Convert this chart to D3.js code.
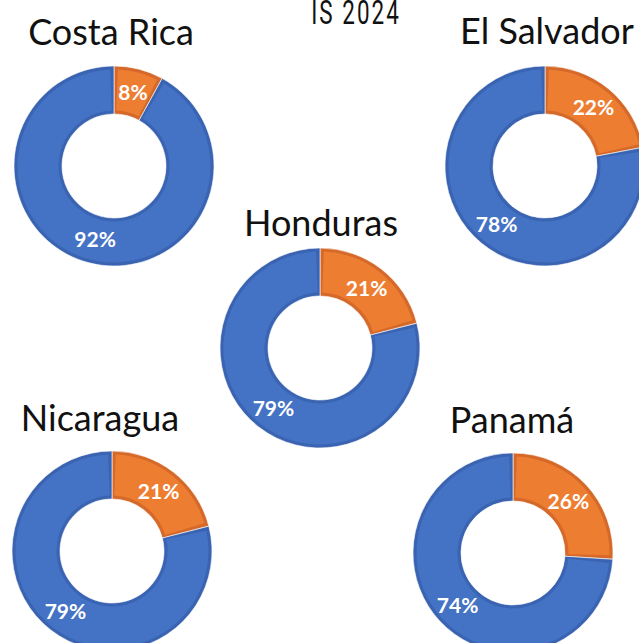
<!DOCTYPE html>
<html lang="es">
<head>
  <meta charset="UTF-8">
  <title>Donuts 2024</title>
  <style>
    body {
      margin: 0;
      background: #fff;
    }
    .country {
      font-family: Lato, "Open Sans", sans-serif;
      font-size: 36px;
      fill: #111;
    }
    .pct {
      font-family: Lato, "Open Sans", sans-serif;
      font-weight: bold;
      font-size: 21px;
      fill: #fff;
    }
  </style>
</head>
<body>
  <script src="https://d3js.org/d3.v7.min.js"></script>
  <script>
    const countries = ['Costa Rica', 'El Salvador', 'Honduras', 'Nicaragua', 'Panamá'];
    const orangeShare = [8, 22, 21, 21, 26];
    const blueShare = [92, 78, 79, 79, 74];

    // where each donut sits on the page
    const layout = [
      { cx: 114, cy: 166, tx: 111, ty: 45 },
      { cx: 545, cy: 166, tx: 547, ty: 44 },
      { cx: 320, cy: 348, tx: 321, ty: 236 },
      { cx: 112, cy: 551, tx: 100, ty: 431 },
      { cx: 513, cy: 553, tx: 512, ty: 433 }
    ];

    const width = 639;
    const height = 643;
    const outerR = 100;
    const innerR = 52;

    const fills = ['#ED7D31', '#4472C4'];
    const edges = ['#D5692A', '#3A64B2'];

    const svg = d3.select('body')
      .append('svg')
      .attr('width', width)
      .attr('height', height);

    // cut-off heading at the top
    svg.append('text')
      .attr('transform', 'translate(356,24) scale(0.68,1)')
      .attr('text-anchor', 'middle')
      .style('font-family', 'Roboto, sans-serif')
      .style('font-size', '33px')
      .style('letter-spacing', '3px')
      .style('fill', '#111')
      .text('IS 2024');

    const pie = d3.pie().sort(null).value(d => d);
    const arc = d3.arc().innerRadius(innerR).outerRadius(outerR);
    const bevel = d3.arc().innerRadius(innerR + 3.5).outerRadius(outerR - 3.5);

    countries.forEach((name, i) => {
      const pos = layout[i];
      const g = svg.append('g')
        .attr('transform', `translate(${pos.cx},${pos.cy})`);

      const slices = pie([orangeShare[i], blueShare[i]]);

      g.selectAll('path.slice')
        .data(slices)
        .enter().append('path')
          .attr('class', 'slice')
          .attr('d', arc)
          .attr('fill', (d, j) => edges[j])
          .attr('stroke', '#fff')
          .attr('stroke-width', 0.6);

      g.selectAll('path.inner')
        .data(slices)
        .enter().append('path')
          .attr('class', 'inner')
          .attr('d', d => bevel({
            startAngle: d.startAngle + 0.04,
            endAngle: d.endAngle - 0.04
          }))
          .attr('fill', (d, j) => fills[j]);

      g.selectAll('text')
        .data(slices)
        .enter().append('text')
          .attr('class', 'pct')
          .attr('transform', d => `translate(${arc.centroid(d)})`)
          .attr('text-anchor', 'middle')
          .attr('dy', '0.36em')
          .text(d => d.data + '%');

      svg.append('text')
        .attr('class', 'country')
        .attr('x', pos.tx)
        .attr('y', pos.ty)
        .attr('text-anchor', 'middle')
        .text(name);
    });
  </script>
</body>
</html>
